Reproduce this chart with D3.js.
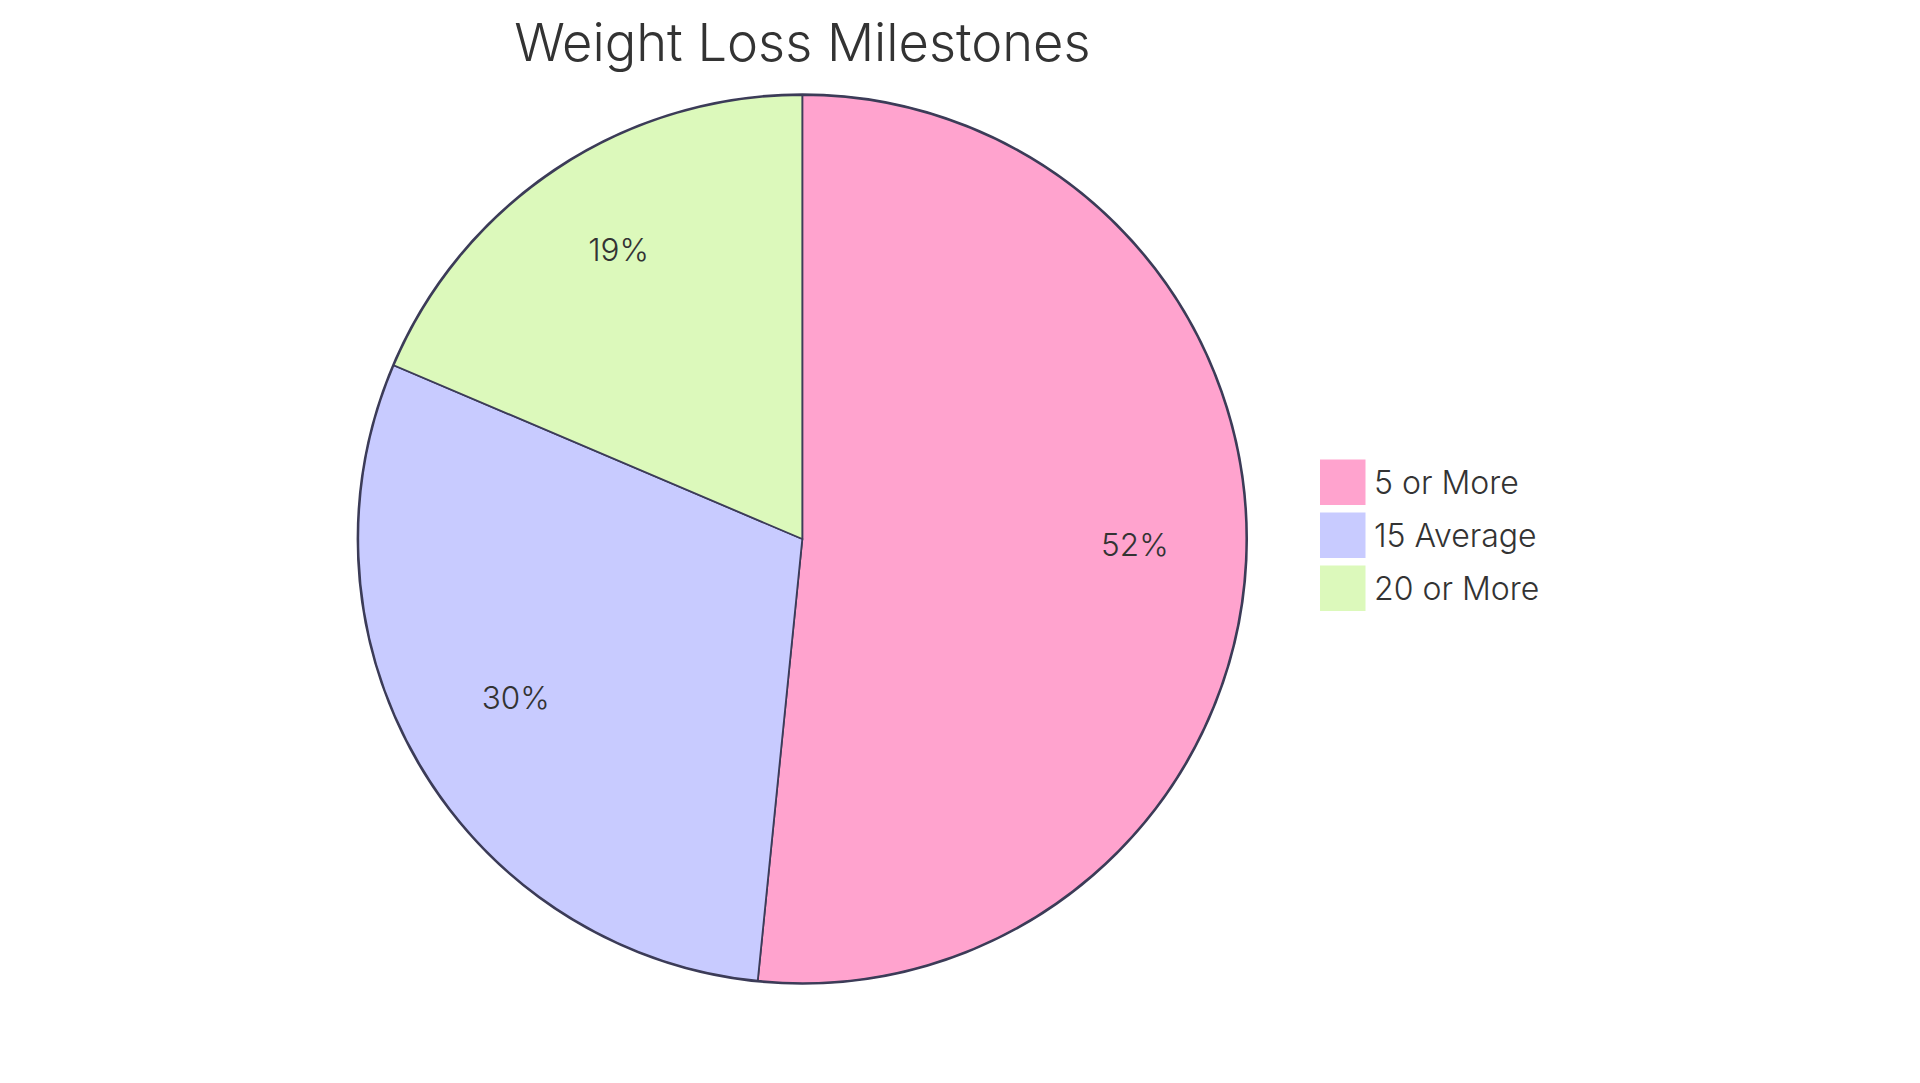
<!DOCTYPE html>
<html>
<head>
<meta charset="utf-8">
<script src="https://cdn.jsdelivr.net/npm/d3@7"></script>
<style>
  html, body { margin: 0; padding: 0; background: #ffffff; }
  svg { display: block; }
  text { font-family: Inter, "Noto Sans", sans-serif; font-weight: 300; }
</style>
</head>
<body>
<svg id="chart" width="1920" height="1083"></svg>
<script>
const title = "Weight Loss Milestones";
const categories = ["5 or More", "15 Average", "20 or More"];
const values = [51.6, 29.8, 18.6];
const colors = ["#FFA3CE", "#C8CBFF", "#DCF9BB"];

const cx = 802.3, cy = 539, radius = 444;

const svg = d3.select("#chart");

svg.append("text")
  .attr("x", cx).attr("y", 61)
  .attr("text-anchor", "middle")
  .attr("font-size", 52.4)
  .attr("fill", "#333333")
  .text(title);

const data = categories.map((c, i) => ({ label: c, value: values[i] }));
const total = d3.sum(values);

const pie = d3.pie().value(d => d.value).sort(null);
const arcs = pie(data);
const arc = d3.arc().innerRadius(0).outerRadius(radius);
const labelArc = d3.arc().innerRadius(radius * 0.75).outerRadius(radius * 0.75);
const color = d3.scaleOrdinal().domain(categories).range(colors);

const g = svg.append("g").attr("transform", `translate(${cx},${cy})`);

g.append("circle")
  .attr("r", radius)
  .attr("fill", "none")
  .attr("stroke", "#3c3c58")
  .attr("stroke-width", 3.4);

g.selectAll("path.slice")
  .data(arcs)
  .enter().append("path")
  .attr("class", "slice")
  .attr("d", arc)
  .attr("fill", d => color(d.data.label))
  .attr("stroke", "#3c3c58")
  .attr("stroke-width", 1.8);

g.selectAll("text.pct")
  .data(arcs)
  .enter().append("text")
  .attr("class", "pct")
  .attr("transform", d => `translate(${labelArc.centroid(d)})`)
  .attr("text-anchor", "middle")
  .attr("font-size", 31.5)
  .attr("fill", "#333333")
  .text(d => (d.data.value / total * 100).toFixed(0) + "%");

const legend = svg.append("g").attr("transform", "translate(1320,459.5)");
const item = legend.selectAll("g.item")
  .data(categories)
  .enter().append("g")
  .attr("class", "item")
  .attr("transform", (d, i) => `translate(0,${i * 53})`);

item.append("rect")
  .attr("width", 45.5).attr("height", 45.5)
  .attr("fill", d => color(d));

item.append("text")
  .attr("x", 54).attr("y", 34.5)
  .attr("font-size", 32)
  .attr("fill", "#333333")
  .text(d => d);
</script>
</body>
</html>
